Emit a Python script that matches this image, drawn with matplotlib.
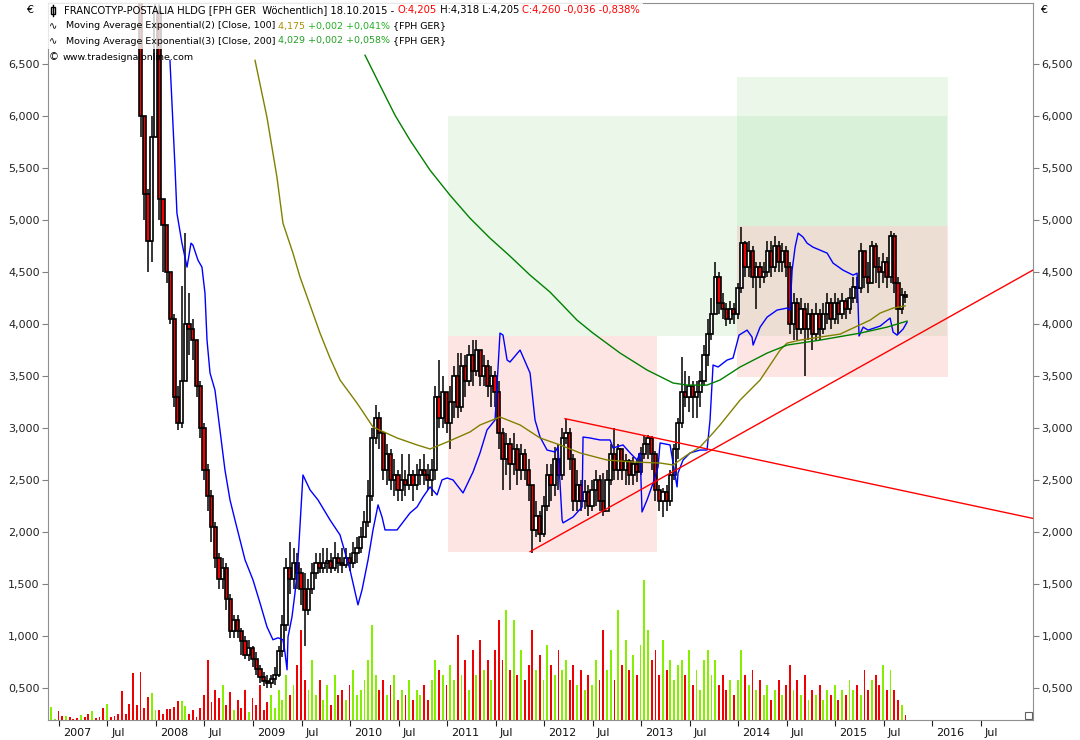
import numpy as np
import matplotlib.pyplot as plt
import matplotlib.transforms as mtransforms
from matplotlib.patches import Rectangle

# time axis in fractional years, one candle every two weeks
t_start = 2006.918
t_step = 1 / 26

close = [16.2, 16.8, 16.0, 15.5, 15.9, 15.2, 14.6, 14.0, 14.4, 13.7,
         13.1, 13.4, 12.6, 12.0, 11.5, 11.9, 11.1, 10.6, 10.0, 9.6,
         9.1, 8.7, 8.1, 7.4, 6.0, 5.25, 4.8, 5.8, 7.0, 5.2,
         4.95, 4.5, 4.05, 3.3, 3.05, 3.45, 4.0, 3.95, 3.85, 3.4,
         3.0, 2.6, 2.35, 2.05, 1.75, 1.55, 1.65, 1.35, 1.05, 1.15,
         1.05, 0.95, 0.82, 0.88, 0.78, 0.68, 0.6, 0.57, 0.55, 0.58,
         0.62, 0.85, 1.1, 1.65, 1.55, 1.7, 1.6, 1.45, 1.25, 1.45,
         1.6, 1.7, 1.65, 1.7, 1.72, 1.65, 1.75, 1.7, 1.68, 1.75,
         1.7, 1.8, 1.85, 1.95, 2.1, 2.35, 2.9, 3.1, 2.95, 2.6,
         2.75, 2.5, 2.55, 2.4, 2.5, 2.45, 2.55, 2.45, 2.55, 2.6,
         2.55, 2.5, 2.6, 3.3, 3.1, 3.35, 3.05, 3.25, 3.5, 3.2,
         3.6, 3.45, 3.7, 3.55, 3.75, 3.5, 3.6, 3.4, 3.5, 3.35,
         2.95, 2.7, 2.85, 2.65, 2.8, 2.6, 2.75, 2.6, 2.45, 2.02,
         2.15, 1.98, 2.25, 2.55, 2.45, 2.7, 2.55, 2.9, 2.95, 2.7,
         2.3, 2.45, 2.3, 2.38, 2.25, 2.4, 2.5, 2.3, 2.2, 2.5,
         2.75, 2.6, 2.8, 2.6, 2.68, 2.55, 2.65, 2.58, 2.75, 2.85,
         2.9, 2.75, 2.4, 2.3, 2.38, 2.3, 2.55, 2.8, 3.05, 3.35,
         3.3, 3.4, 3.3, 3.35, 3.45, 3.7, 3.9, 4.1, 4.45, 4.2,
         4.15, 4.05, 4.15, 4.1, 4.35, 4.78, 4.55, 4.7, 4.45, 4.55,
         4.45, 4.5, 4.7, 4.55, 4.75, 4.6, 4.7, 4.55, 4.0, 4.2,
         3.95, 4.15, 3.95, 4.1, 3.9, 4.1, 3.95, 4.1, 4.2, 4.05,
         4.2, 4.1, 4.22, 4.15, 4.25, 4.36, 4.35, 4.7, 4.45, 4.4,
         4.75, 4.55, 4.5, 4.6, 4.45, 4.85, 4.4, 4.15, 4.28, 4.26]

high = [17.0, 17.2, 16.9, 16.1, 16.3, 16.0, 15.3, 14.8, 14.9, 14.5,
        13.9, 13.8, 13.5, 12.8, 12.2, 12.3, 12.0, 11.4, 10.8, 10.3,
        9.8, 9.4, 8.9, 8.3, 7.6, 6.0, 5.3, 6.0, 7.3, 7.4,
        5.2, 4.95, 4.5, 4.1, 3.4, 4.37, 4.88, 4.3, 4.05, 3.85,
        3.45, 3.05, 2.65, 2.4, 2.1, 1.8, 1.75, 1.7, 1.4, 1.2,
        1.2, 1.08, 1.0, 0.96, 0.9, 0.84, 0.72, 0.65, 0.62, 0.62,
        0.7, 0.9, 1.2, 1.75, 1.9, 1.85, 1.8, 1.65, 1.6, 1.55,
        1.7, 1.8, 1.8, 1.85, 1.85, 1.8, 1.9, 1.8, 1.85, 1.85,
        1.8, 1.9, 1.95, 2.05, 2.2, 2.5, 3.0, 3.22, 3.15, 2.95,
        2.85, 2.8, 2.7, 2.6, 2.75, 2.6, 2.75, 2.6, 2.65, 2.7,
        2.75, 2.65, 2.7, 3.4, 3.65, 3.5, 3.35, 3.4, 3.6, 3.72,
        3.72, 3.7, 3.8, 3.85, 3.85, 3.7, 3.7, 3.65, 3.6, 3.55,
        3.45, 3.0, 2.95, 2.9, 2.95, 2.85, 2.85, 2.8, 2.7, 2.4,
        2.3, 2.2, 2.35, 2.65, 2.65, 2.82, 2.85, 3.0, 3.09, 3.0,
        2.75, 2.6, 2.5, 2.5, 2.45, 2.5, 2.6, 2.55, 2.57, 2.6,
        2.85, 3.0, 2.85, 2.8, 2.75, 2.7, 2.72, 2.7, 2.82, 2.93,
        2.93, 2.92, 2.78, 2.45, 2.42, 2.45, 2.6, 2.85, 3.1, 3.68,
        3.55, 3.5, 3.45, 3.45, 3.55, 3.8, 4.05, 4.25, 4.6, 4.5,
        4.3, 4.2, 4.22, 4.2, 4.4, 4.93, 4.8, 4.8, 4.75, 4.6,
        4.6, 4.6, 4.8, 4.8, 4.85, 4.8, 4.78, 4.75, 4.6, 4.3,
        4.25, 4.25, 4.2, 4.2, 4.15, 4.2, 4.15, 4.2, 4.3, 4.25,
        4.3, 4.25, 4.3, 4.25, 4.35, 4.45, 4.45, 4.78, 4.7, 4.6,
        4.8, 4.78, 4.65, 4.68, 4.65, 4.9, 4.88, 4.45, 4.35, 4.32]

low = [15.8, 16.0, 15.6, 15.2, 15.3, 14.9, 14.3, 13.7, 13.8, 13.4,
       12.8, 12.9, 12.3, 11.7, 11.2, 11.3, 10.8, 10.3, 9.7, 9.3,
       8.8, 8.4, 7.8, 7.2, 5.8, 5.0, 4.5, 4.6, 5.9, 5.0,
       4.5, 4.4, 4.0, 3.2, 2.98, 3.0, 3.45, 3.7, 3.65, 3.3,
       2.9, 2.5, 2.2, 1.9, 1.65, 1.45, 1.45, 1.25, 0.98, 0.98,
       0.98, 0.82, 0.78, 0.76, 0.7, 0.62, 0.55, 0.52, 0.5, 0.5,
       0.53, 0.6, 0.8, 1.05, 1.4, 1.45, 1.45, 1.3, 0.9, 1.2,
       1.4, 1.55, 1.6, 1.6, 1.6, 1.6, 1.62, 1.6, 1.6, 1.65,
       1.62, 1.65, 1.7, 1.8, 1.95, 2.05, 2.3, 2.85, 2.8, 2.5,
       2.45, 2.4, 2.35, 2.3, 2.3, 2.35, 2.4, 2.3, 2.4, 2.45,
       2.45, 2.4, 2.35, 2.5, 3.0, 3.0, 2.95, 2.8, 3.1, 3.1,
       3.15, 3.3, 3.4, 3.4, 3.5, 3.4, 3.4, 3.3, 3.2, 3.2,
       2.8, 2.4, 2.55, 2.4, 2.55, 2.45, 2.5, 2.5, 2.3, 1.8,
       1.95, 1.9, 1.95, 2.2, 2.3, 2.35, 2.4, 2.5, 2.85, 2.6,
       2.2, 2.2, 2.2, 2.22, 2.15, 2.2, 2.25, 2.2, 2.15, 2.2,
       2.45, 2.5, 2.5, 2.5, 2.45, 2.45, 2.45, 2.48, 2.55, 2.7,
       2.7, 2.6, 2.3, 2.2, 2.14, 2.2, 2.25, 2.5, 2.7, 3.0,
       3.2, 3.15, 3.1, 3.1, 3.2, 3.4, 3.6, 3.85, 4.1, 4.1,
       4.05, 3.98, 4.0, 4.0, 4.05, 4.3, 4.45, 4.45, 4.35, 4.15,
       4.35, 4.4, 4.45, 4.45, 4.5, 4.5, 4.5, 4.45, 3.9, 3.85,
       3.85, 3.9, 3.5, 3.85, 3.75, 3.85, 3.85, 3.9, 4.0, 3.95,
       4.0, 4.0, 4.05, 4.05, 4.1, 4.2, 4.2, 4.3, 4.35, 4.3,
       4.4, 4.4, 4.35, 4.4, 4.35, 4.4, 4.3, 3.9, 4.1, 4.2]

# volume in thousand shares
volume = [13, 1, 9, 4, 4, 3, 1, 2, 5, 3,
          6, 9, 2, 3, 12, 16, 3, 4, 6, 29,
          6, 16, 47, 15, 48, 12, 23, 27, 10, 10,
          6, 11, 11, 13, 19, 19, 14, 6, 10, 3,
          12, 25, 60, 18, 30, 22, 35, 15, 28, 10,
          20, 12, 30, 8, 22, 15, 35, 10, 18, 25,
          12, 30, 20, 45, 25, 35, 55, 90, 40, 30,
          60, 25, 40, 20, 35, 15, 45, 25, 30, 20,
          35, 50, 25, 30, 40, 60, 95, 45, 30, 40,
          25, 35, 45, 20, 30, 25, 40, 20, 30, 25,
          35, 20, 40, 60, 50, 45, 35, 55, 40, 85,
          45, 60, 30, 70, 45, 80, 50, 60, 40, 70,
          100, 60, 110, 50, 100, 45, 70, 40, 55, 90,
          50, 65, 40, 75, 55, 45, 70, 50, 60, 40,
          55, 35, 50, 30, 45, 35, 60, 40, 90, 50,
          70, 40, 110, 55, 80, 50, 65, 45, 75, 140,
          90, 60, 70, 45, 80, 50, 60, 40, 55, 60,
          45, 70, 35, 50, 30, 60, 70, 45, 60, 35,
          45, 30, 40, 25, 40, 70, 45, 35, 50, 30,
          40, 25, 35, 20, 30, 40, 25, 35, 55, 30,
          40, 25, 45, 20, 30, 25, 35, 20, 30, 25,
          35, 20, 30, 25, 40, 30, 35, 25, 50, 30,
          40, 45, 35, 55, 30, 50, 30, 20, 15, 5]

# moving averages (year, price)
ema100_t = [2009.021, 2009.144, 2009.247, 2009.309, 2009.412, 2009.485, 2009.588, 2009.691,
            2009.794, 2009.897, 2010.072, 2010.237, 2010.485, 2010.691, 2010.825, 2011.0,
            2011.237, 2011.340, 2011.546, 2011.753, 2011.959, 2012.165, 2012.371, 2012.649,
            2012.918, 2013.196, 2013.330, 2013.474, 2013.608, 2013.742, 2013.814, 2014.021,
            2014.227, 2014.433, 2014.505, 2014.639, 2014.845, 2015.052, 2015.206, 2015.361,
            2015.464, 2015.598, 2015.722]
ema100_v = [6.538, 5.99, 5.413, 4.971, 4.683, 4.452, 4.183, 3.913,
            3.673, 3.462, 3.240, 3.010, 2.904, 2.837, 2.798, 2.865,
            2.962, 3.029, 3.106, 3.029, 2.904, 2.837, 2.760, 2.692,
            2.673, 2.663, 2.644, 2.740, 2.817, 2.952, 3.029, 3.269,
            3.462, 3.75, 3.817, 3.846, 3.875, 3.904, 3.971, 4.038,
            4.106, 4.154, 4.175]

ema200_t = [2010.155, 2010.309, 2010.464, 2010.619, 2010.825, 2011.031, 2011.237, 2011.443,
            2011.649, 2011.856, 2012.062, 2012.340, 2012.505, 2012.784, 2013.062, 2013.330,
            2013.474, 2013.680, 2013.814, 2014.021, 2014.299, 2014.505, 2014.845, 2015.258,
            2015.536, 2015.742]
ema200_v = [6.587, 6.298, 6.010, 5.769, 5.481, 5.240, 5.019, 4.827,
            4.654, 4.471, 4.308, 4.038, 3.913, 3.721, 3.558, 3.433,
            3.413, 3.413, 3.462, 3.587, 3.721, 3.798, 3.846, 3.913,
            3.971, 4.029]

blue_t = [2008.144, 2008.165, 2008.196, 2008.216, 2008.268, 2008.320, 2008.361, 2008.381,
          2008.433, 2008.474, 2008.505, 2008.526, 2008.557, 2008.608, 2008.660, 2008.711,
          2008.763, 2008.814, 2008.866, 2008.918, 2009.0, 2009.072, 2009.144, 2009.206,
          2009.258, 2009.309, 2009.330, 2009.351, 2009.361, 2009.402, 2009.433, 2009.454,
          2009.464, 2009.515, 2009.588, 2009.670, 2009.794, 2009.897, 2010.0, 2010.082,
          2010.124, 2010.186, 2010.237, 2010.289, 2010.330, 2010.361, 2010.485, 2010.619,
          2010.691, 2010.753, 2010.825, 2010.897, 2010.948, 2011.0, 2011.062, 2011.165,
          2011.268, 2011.340, 2011.412, 2011.495, 2011.546, 2011.577, 2011.619, 2011.649,
          2011.753, 2011.856, 2011.907, 2011.959, 2012.031, 2012.113, 2012.144, 2012.186,
          2012.196, 2012.299, 2012.392, 2012.402, 2012.474, 2012.577, 2012.680, 2012.711,
          2012.814, 2012.887, 2012.959, 2012.990, 2013.010, 2013.062, 2013.124, 2013.175,
          2013.196, 2013.299, 2013.371, 2013.381, 2013.433, 2013.505, 2013.608, 2013.680,
          2013.711, 2013.742, 2013.794, 2013.887, 2013.948, 2014.010, 2014.093, 2014.144,
          2014.155, 2014.227, 2014.299, 2014.402, 2014.505, 2014.536, 2014.557, 2014.588,
          2014.619, 2014.670, 2014.711, 2014.773, 2014.845, 2014.918, 2014.979, 2015.082,
          2015.186, 2015.227, 2015.247, 2015.289, 2015.340, 2015.464, 2015.567, 2015.598,
          2015.639, 2015.701, 2015.742]
blue_v = [6.538, 6.125, 5.510, 5.067, 4.779, 4.548, 4.779, 4.760,
          4.615, 4.548, 4.298, 3.846, 3.529, 3.365, 2.981, 2.596,
          2.308, 2.115, 1.923, 1.731, 1.538, 1.317, 1.087, 0.962,
          0.981, 0.962, 0.837, 0.673, 0.990, 1.183, 1.413, 1.606,
          1.731, 2.548, 2.404, 2.308, 2.115, 1.971, 1.635, 1.298,
          1.442, 1.731, 2.019, 2.260, 2.144, 2.019, 2.019, 2.183,
          2.240, 2.337, 2.433, 2.356, 2.5, 2.519, 2.5, 2.375,
          2.577, 2.760, 2.981, 3.077, 3.913, 3.894, 3.654, 3.635,
          3.75, 3.529, 3.077, 2.913, 2.788, 2.769, 2.817, 2.115,
          2.087, 2.144, 2.240, 2.913, 2.904, 2.885, 2.885, 2.808,
          2.837, 2.760, 2.692, 2.760, 2.192, 2.308, 2.471, 2.625,
          2.856, 2.837, 2.433, 2.567, 2.692, 2.760, 2.788, 2.788,
          3.077, 3.606, 3.587, 3.654, 3.673, 3.894, 3.942, 3.875,
          3.798, 3.971, 4.067, 4.135, 4.154, 4.135, 4.519, 4.740,
          4.875, 4.837, 4.779, 4.740, 4.712, 4.683, 4.587, 4.519,
          4.471, 4.490, 3.885, 3.971, 3.942, 3.981, 4.058, 3.923,
          3.894, 3.952, 4.019]

# trend lines and zones
trend_down_t = [2012.216, 2017.04]
trend_down_v = [3.09, 2.13]
trend_up_t = [2011.856, 2017.04]
trend_up_v = [1.81, 4.52]
green_zones = [(2011.01, 2016.15, 3.89, 6.0), (2013.99, 2016.16, 4.94, 6.38)]
red_zones = [(2011.01, 2013.16, 1.81, 3.89), (2013.99, 2016.16, 3.49, 4.94)]

y_ticks = [0.5, 1.0, 1.5, 2.0, 2.5, 3.0, 3.5, 4.0, 4.5, 5.0, 5.5, 6.0, 6.5]
x_ticks = [2007, 2007.5, 2008, 2008.5, 2009, 2009.5, 2010, 2010.5, 2011, 2011.5,
           2012, 2012.5, 2013, 2013.5, 2014, 2014.5, 2015, 2015.5, 2016, 2016.5]
x_labels = ['2007', 'Jul', '2008', 'Jul', '2009', 'Jul', '2010', 'Jul', '2011', 'Jul',
            '2012', 'Jul', '2013', 'Jul', '2014', 'Jul', '2015', 'Jul', '2016', 'Jul']

plt.rcParams['font.family'] = ['DejaVu Sans']
bg = '#fcf9f2'
fig = plt.figure(figsize=(10.8, 7.4), dpi=100, facecolor='white')
rect = [48 / 1080, 20 / 740, 985 / 1080, 717 / 740]

# volume axis sits behind the price axis
axv = fig.add_axes(rect, facecolor=bg)
ax = fig.add_axes(rect, facecolor='none')

t = t_start + t_step * np.arange(len(close))
c = np.array(close)
o = np.concatenate([[c[0]], c[:-1]])
up = c >= o
xmin, xmax = 2006.887, 2017.04

vol_col = np.where(up, '#84f000', '#f00000')
axv.bar(t, volume, width=t_step * 0.5, color=vol_col, linewidth=0)
axv.set_xlim(xmin, xmax)
axv.set_ylim(0, 717)
axv.axis('off')

for x0, x1, y0, y1 in green_zones:
    ax.add_patch(Rectangle((x0, y0), x1 - x0, y1 - y0, facecolor=(0.6, 0.86, 0.58),
                           alpha=0.2, linewidth=0, zorder=1))
for x0, x1, y0, y1 in red_zones:
    ax.add_patch(Rectangle((x0, y0), x1 - x0, y1 - y0, facecolor=(0.97, 0.49, 0.48),
                           alpha=0.2, linewidth=0, zorder=1))

ax.vlines(t, low, high, color='black', linewidth=1.1, zorder=2)
body = np.maximum(np.abs(c - o), 0.01)
ax.bar(t, body, bottom=np.minimum(o, c), width=t_step * 0.85,
       color=np.where(up, 'white', '#f00000'), edgecolor='black', linewidth=1.2, zorder=3)

ax.plot(blue_t, blue_v, color='#0000ff', linewidth=1, zorder=4)
ax.plot(ema100_t, ema100_v, color='#808000', linewidth=1, zorder=4)
ax.plot(ema200_t, ema200_v, color='#008000', linewidth=1, zorder=4)
ax.plot(trend_down_t, trend_down_v, color='#ff0000', linewidth=1, zorder=5)
ax.plot(trend_up_t, trend_up_v, color='#ff0000', linewidth=1, zorder=5)

ax.set_xlim(xmin, xmax)
ax.set_ylim(0.19, 7.09)
ax.set_yticks(y_ticks)
ax.set_yticklabels([f'{v:.3f}'.replace('.', ',') for v in y_ticks])
ax.tick_params(axis='y', left=True, right=True, labelleft=True, labelright=True,
               length=4, color='#808080', labelsize=8, labelcolor='#222222', pad=2)
ax.set_xticks(x_ticks)
ax.set_xticklabels(x_labels, ha='left')
ax.tick_params(axis='x', length=4, color='#202020', labelsize=8, labelcolor='#111111', pad=2)
offset = mtransforms.ScaledTranslation(4 / 100, 0, fig.dpi_scale_trans)
for lab in ax.get_xticklabels():
    lab.set_transform(lab.get_transform() + offset)
for s in ax.spines.values():
    s.set_color('#909090')

ftr = fig.transFigure
ax.text(30 / 1080, 1 - 10 / 740, '€', fontsize=8, va='center', ha='center', transform=ftr)
ax.text(1040 / 1080, 1 - 10 / 740, '€', fontsize=8, va='center', ha='left', transform=ftr)

# small resize grip in the lower right corner
ax.add_patch(Rectangle((1025 / 1080, 21 / 740), 7 / 1080, 7 / 740, transform=ftr,
                       facecolor='white', edgecolor='#606060', linewidth=0.8, clip_on=False, zorder=6))

# legend header with white backing
for x0, y0, w, h in [(45, 3, 598, 15), (45, 18, 402, 31)]:
    ax.add_patch(Rectangle((x0 / 1080, 1 - (y0 + h) / 740), w / 1080, h / 740, transform=ftr,
                           facecolor='white', alpha=0.8, linewidth=0, clip_on=False, zorder=6))
ax.add_patch(Rectangle((51 / 1080, 1 - 14 / 740), 4 / 1080, 7 / 740, transform=ftr,
                       facecolor='white', edgecolor='black', linewidth=1, clip_on=False, zorder=7))
ax.plot([53 / 1080, 53 / 1080], [1 - 16 / 740, 1 - 5 / 740], transform=ftr,
        color='black', linewidth=1, clip_on=False, zorder=7)


def header_line(y, parts, x=64, fs=7.2):
    prev = None
    for txt, col in parts:
        if prev is None:
            prev = ax.text(x / 1080, 1 - y / 740, txt, color=col, fontsize=fs, va='center',
                           ha='left', transform=ftr, zorder=8)
        else:
            prev = ax.annotate(txt, xy=(1, 0), xycoords=prev, color=col, fontsize=fs,
                               va='bottom', ha='left', annotation_clip=False, zorder=8)


header_line(10, [('FRANCOTYP-POSTALIA HLDG [FPH GER  Wöchentlich] 18.10.2015 - ', 'black'),
                 ('O:4,205', '#ff0000'), (' H:4,318 L:4,205 ', 'black'),
                 ('C:4,260 -0,036 -0,838%', '#ff0000')])
header_line(26, [('Moving Average Exponential(2) [Close, 100] ', 'black'),
                 ('4,175 ', '#a89000'), ('+0,002 +0,041%', '#22b022'), (' {FPH GER}', 'black')],
            x=66, fs=6.8)
header_line(41, [('Moving Average Exponential(3) [Close, 200] ', 'black'),
                 ('4,029 +0,002 +0,058%', '#22a022'), (' {FPH GER}', 'black')], x=66, fs=6.8)
header_line(57, [('www.tradesignalonline.com', 'black')], x=63, fs=6.8)
for y, sym in [(26, '∿'), (41, '∿'), (57, '©')]:
    ax.text(49 / 1080, 1 - y / 740, sym, fontsize=7.2, va='center', ha='left', transform=ftr, zorder=8)

fig.savefig('out.png', dpi=100, facecolor='white')
